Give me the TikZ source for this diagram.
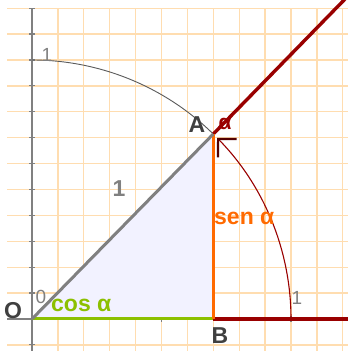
\documentclass[tikz,border=0pt]{standalone}
\usepackage{fontspec}
\setmainfont{Liberation Sans}
\usetikzlibrary{arrows.meta}
\definecolor{gridc}{HTML}{FFDDB0}
\definecolor{axisc}{HTML}{808080}
\definecolor{darkred}{HTML}{990000}
\definecolor{orangec}{HTML}{FF6A00}
\definecolor{greenc}{HTML}{8CC000}
\definecolor{fillc}{HTML}{F2F2FF}
\definecolor{labc}{HTML}{404040}
\tikzset{
  gridline/.style={gridc, line width=1.3pt},
  axisline/.style={axisc, line width=1.6pt},
  biglab/.style={font=\fontsize{23}{26}\selectfont\bfseries, inner sep=0pt},
  smalllab/.style={font=\fontsize{19}{22}\selectfont, inner sep=0pt, text=axisc},
}
\begin{document}
\begin{tikzpicture}[x=1pt,y=1pt]
\useasboundingbox (0,0) rectangle (348,351);
\fill[white] (0,0) rectangle (348,351);
\pgfmathsetmacro{\u}{25.9}
% grid
\foreach \k in {0,...,12} {\draw[gridline] (32+\k*\u,0) -- (32+\k*\u,343);}
\foreach \k in {-1,...,12} {\draw[gridline] (7,32+\k*\u) -- (348,32+\k*\u);}
% key points
\coordinate (O) at (32,32);
\coordinate (A) at (213.3,217);
\coordinate (B) at (213.3,32);
\coordinate (R) at (348,355);
\coordinate (E) at (348,32);
\coordinate (Y0) at (32,0);
\coordinate (Y1) at (32,343);
\coordinate (X0) at (7,32);
% axes
\draw[axisline] (Y0) -- (Y1);
\draw[axisline] (X0) -- (E);
\foreach \k in {-1,...,12} {\draw[axisc, line width=1.2pt] (29,32+\k*\u) -- (35,32+\k*\u);}
\foreach \k in {5,10} {\draw[axisc, line width=1.2pt] (32+\k*\u,29) -- (32+\k*\u,35);}
% triangle
\fill[fillc] (O) -- (A) -- (B) -- cycle;
% unit circle arc (top)
\draw[axisc!70!black, line width=0.9pt] (32,291) arc[start angle=90, end angle=45.57, radius=259];
% ray
\begin{scope}
\clip (0,0) rectangle (348,351);
\draw[darkred, line width=3.4pt] (A) -- (R);
\end{scope}
\draw[darkred, line width=3.4pt] (B) -- (E);
% legs
\draw[greenc, line width=3pt] (O) -- (B);
\draw[orangec, line width=3pt] (B) -- (A);
\draw[axisc, line width=3pt] (O) -- (A);
% angle arc
\draw[darkred, line width=1.1pt, -{Straight Barb[length=13pt,width=26pt,line width=2.2pt,color=darkred!55!black]}] (291,32) arc[start angle=0, end angle=44.4, radius=259];
% labels
\node[biglab, text=labc] (lO) at (13,40) {O};
\node[biglab, text=labc] (lB) at (220,15) {B};
\node[biglab, text=labc] (lA) at (197,226) {A};
\node[biglab, text=axisc] (l1) at (119,162) {1};
\node[biglab, text=orangec, anchor=west] (ls) at (214,133) {sen α};
\node[biglab, text=greenc, anchor=west] (lc) at (51,46) {cos α};
\node[smalllab] (t1) at (47,296) {1};
\node[smalllab] (r1) at (297,53) {1};
\node[smalllab] (z0) at (41,54) {0};
\node[font=\fontsize{21}{24}\selectfont\bfseries, text=darkred, inner sep=0pt] (la) at (225,227) {α};
\end{tikzpicture}
\end{document}
